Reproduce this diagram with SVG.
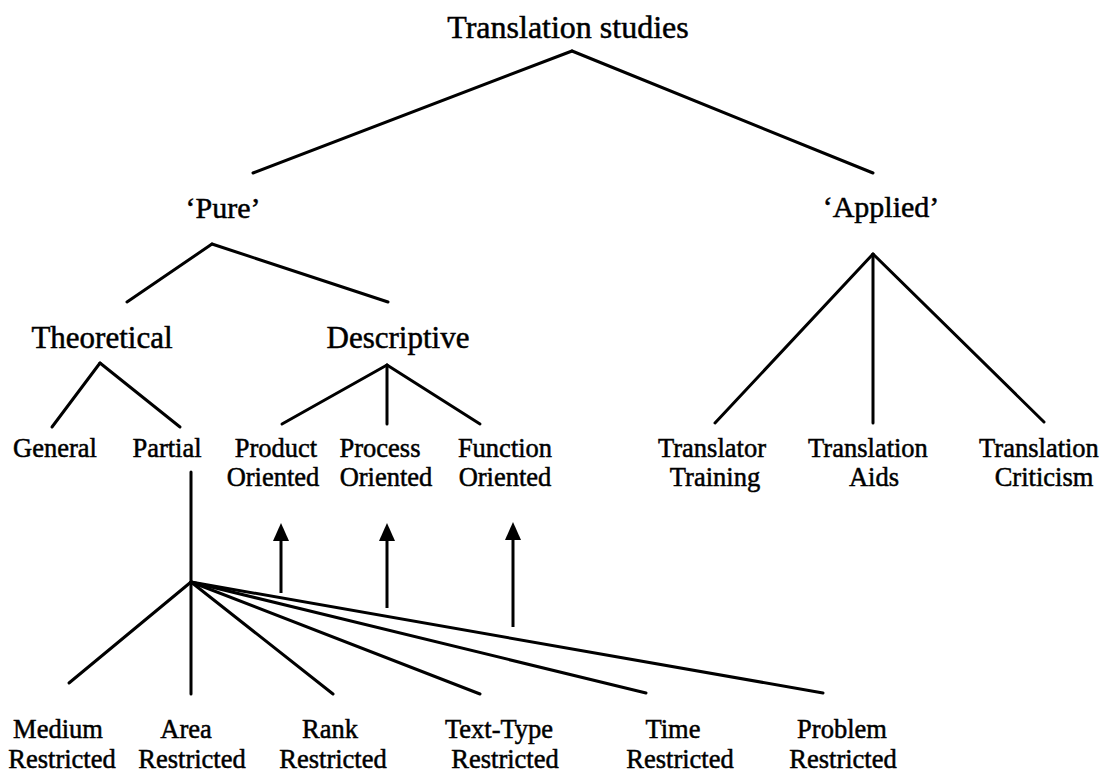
<svg xmlns="http://www.w3.org/2000/svg" width="1111" height="772" viewBox="0 0 1111 772">
<style>
text{font-family:"Liberation Serif","Times New Roman",serif;fill:#000;stroke:#000;stroke-width:0.5;text-anchor:middle}
.t0{font-size:32px}
.t1{font-size:30px}
.t2{font-size:31px}
.t3{font-size:26.5px}
.c line{stroke:#000;stroke-width:3;stroke-linecap:round;fill:none}
.c line.ar{stroke-linecap:butt}
</style>
<defs>
<marker id="ah" viewBox="0 0 18 16" refX="11" refY="8" markerWidth="18" markerHeight="16" markerUnits="userSpaceOnUse" orient="auto">
<path d="M0,0 L18,8 L0,16 Z" fill="#000"/>
</marker>
</defs>
<rect width="1111" height="772" fill="#fff"/>
<g id="connectors" class="c">
<line x1="572" y1="51" x2="253" y2="173"/>
<line x1="572" y1="51" x2="873" y2="173"/>
<line x1="212" y1="244" x2="127" y2="302"/>
<line x1="212" y1="244" x2="388" y2="302"/>
<line x1="100" y1="363" x2="52" y2="427"/>
<line x1="100" y1="363" x2="180" y2="427"/>
<line x1="387" y1="365" x2="282" y2="424"/>
<line x1="387" y1="365" x2="387" y2="424"/>
<line x1="387" y1="365" x2="480" y2="424"/>
<line x1="873" y1="254" x2="715" y2="423"/>
<line x1="873" y1="254" x2="873" y2="423"/>
<line x1="873" y1="254" x2="1044" y2="422"/>
<line x1="191" y1="472" x2="191" y2="694"/>
<line x1="191" y1="582" x2="69" y2="683"/>
<line x1="191" y1="582" x2="333" y2="694"/>
<line x1="191" y1="582" x2="480" y2="694"/>
<line x1="191" y1="582" x2="646" y2="693"/>
<line x1="191" y1="582" x2="823" y2="693"/>
<line class="ar" x1="281" y1="593" x2="281" y2="530" marker-end="url(#ah)"/>
<line class="ar" x1="387" y1="608" x2="387" y2="530" marker-end="url(#ah)"/>
<line class="ar" x1="513" y1="627" x2="513" y2="529" marker-end="url(#ah)"/>
</g>
<g id="translation-studies"><text class="t0" x="568" y="38">Translation studies</text></g>
<g id="pure"><text class="t1" x="223" y="218">‘Pure’</text></g>
<g id="applied"><text class="t1" x="881" y="217">‘Applied’</text></g>
<g id="theoretical"><text class="t2" x="102" y="348">Theoretical</text></g>
<g id="descriptive"><text class="t2" x="398" y="348">Descriptive</text></g>
<g id="general"><text class="t3" x="55" y="457">General</text></g>
<g id="partial"><text class="t3" x="167" y="457">Partial</text></g>
<g id="product-oriented"><text class="t3" x="276" y="457">Product</text><text class="t3" x="273" y="486">Oriented</text></g>
<g id="process-oriented"><text class="t3" x="380" y="457">Process</text><text class="t3" x="386" y="486">Oriented</text></g>
<g id="function-oriented"><text class="t3" x="505" y="457">Function</text><text class="t3" x="505" y="486">Oriented</text></g>
<g id="translator-training"><text class="t3" x="712" y="457">Translator</text><text class="t3" x="715" y="486">Training</text></g>
<g id="translation-aids"><text class="t3" x="868" y="457">Translation</text><text class="t3" x="874" y="486">Aids</text></g>
<g id="translation-criticism"><text class="t3" x="1039" y="457">Translation</text><text class="t3" x="1044" y="486">Criticism</text></g>
<g id="medium-restricted"><text class="t3" x="58" y="738">Medium</text><text class="t3" x="62" y="768">Restricted</text></g>
<g id="area-restricted"><text class="t3" x="186" y="738">Area</text><text class="t3" x="192" y="768">Restricted</text></g>
<g id="rank-restricted"><text class="t3" x="330" y="738">Rank</text><text class="t3" x="333" y="768">Restricted</text></g>
<g id="text-type-restricted"><text class="t3" x="499" y="738">Text-Type</text><text class="t3" x="505" y="768">Restricted</text></g>
<g id="time-restricted"><text class="t3" x="673" y="738">Time</text><text class="t3" x="680" y="768">Restricted</text></g>
<g id="problem-restricted"><text class="t3" x="842" y="738">Problem</text><text class="t3" x="843" y="768">Restricted</text></g>
</svg>
